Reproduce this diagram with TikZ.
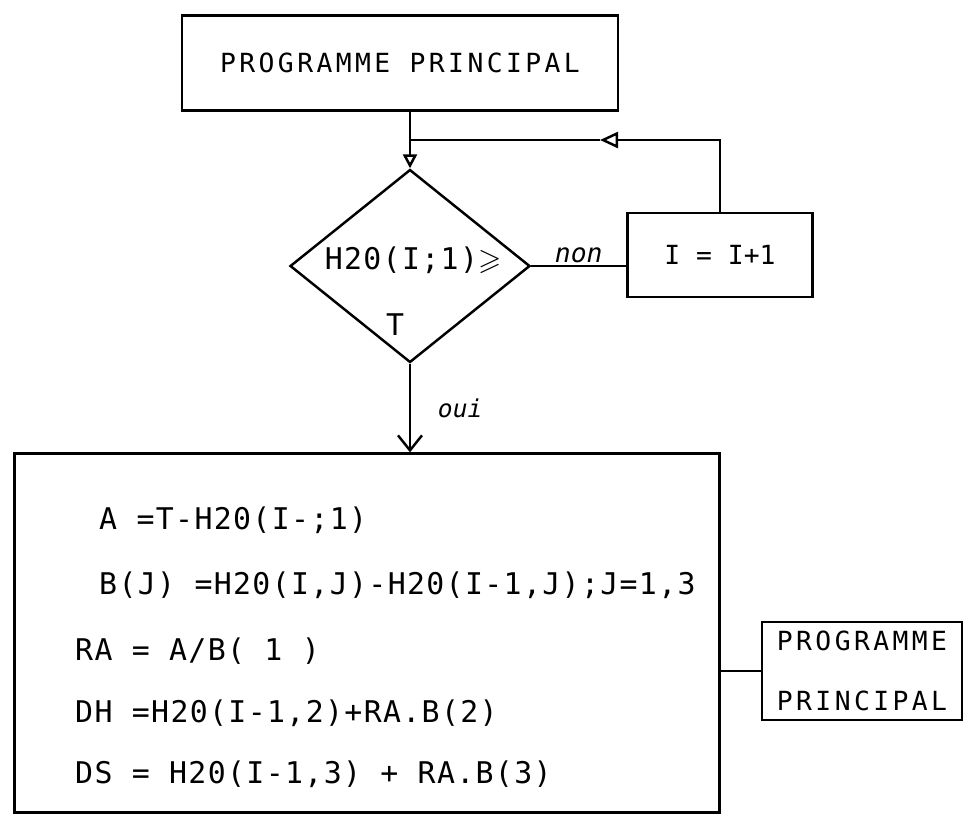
\documentclass[tikz,border=0pt]{standalone}
\usepackage{amsmath}
\usepackage{amssymb}
\usepackage{fontspec}
\usepackage{tikz}
\usetikzlibrary{shapes.geometric,arrows.meta}
\newfontfamily\machine[LetterSpace=4.5]{DejaVu Sans Mono}
\newfontfamily\titre[LetterSpace=13]{DejaVu Sans Mono}
\newfontfamily\plume{DejaVu Sans Mono}

\begin{document}
\begin{tikzpicture}[x=0.02cm,y=-0.02cm,line width=1.4pt,
	boite/.style={draw,inner sep=0pt},
	texte/.style={inner sep=0pt,font=\machine\fontsize{17}{20}\selectfont},
	ligne/.style={texte,anchor=west},
	main/.style={inner sep=1pt,font=\plume\itshape\fontsize{15}{18}\selectfont}]
	\useasboundingbox (0,0) rectangle (977,823);

	% programme principal
	\node[boite,minimum width=8.72cm,minimum height=1.9cm,font=\titre\fontsize{15}{18}\selectfont] (prog) at (400,63) {PROGRAMME PRINCIPAL};

	% le test
	\node[boite,diamond,minimum width=4.8cm,minimum height=3.86cm,texte] (test) at (410,266) {};
	\node[texte] (cond) at (413,260) {H20(I;1)$\geqslant$};
	\node[texte] (vrai) at (395,325) {T};

	% I = I+1
	\node[boite,minimum width=3.7cm,minimum height=1.68cm,font=\plume\fontsize{15}{18}\selectfont] (inc) at (720,255) {I = I+1};

	% le calcul
	\node[boite,minimum width=14.1cm,minimum height=7.18cm] (calc) at (367,633) {};
	\node[ligne] (l1) at (98,520) {A =T-H20(I-;1)};
	\node[ligne] (l2) at (98,585) {B(J) =H20(I,J)-H20(I-1,J);J=1,3};
	\node[ligne] (l3) at (74,651) {RA = A/B( 1 )};
	\node[ligne] (l4) at (74,713) {DH =H20(I-1,2)+RA.B(2)};
	\node[ligne] (l5) at (74,774) {DS = H20(I-1,3) + RA.B(3)};

	% retour
	\node[boite,minimum width=4cm,minimum height=1.96cm,align=left,font=\titre\fontsize{15}{34}\selectfont] (retour) at (862,671) {PROGRAMME\\PRINCIPAL};

	% liaisons
	\coordinate (join) at (410,140);
	\coordinate (loopmid) at (600,140);
	\draw (prog.south -| test.north) -- (join);
	\draw[-{Triangle[open,length=0.28cm,width=0.28cm]}] (join) -- (test.north);
	\draw[-{Triangle[open,length=0.36cm,width=0.32cm]}] (inc.north) |- (loopmid);
	\draw (loopmid) -- (join);
	\draw (test.east) -- (test.east -| inc.west) node[main,midway,above] (non) {non};
	\draw[-{Straight Barb[length=0.3cm,width=0.48cm]}] (test.south) -- (test.south |- calc.north) node[main,midway,right,xshift=0.5cm,font=\plume\itshape\fontsize{14}{16}\selectfont] (oui) {oui};
	\draw (calc.east |- retour.west) -- (retour.west);
\end{tikzpicture}
\end{document}
